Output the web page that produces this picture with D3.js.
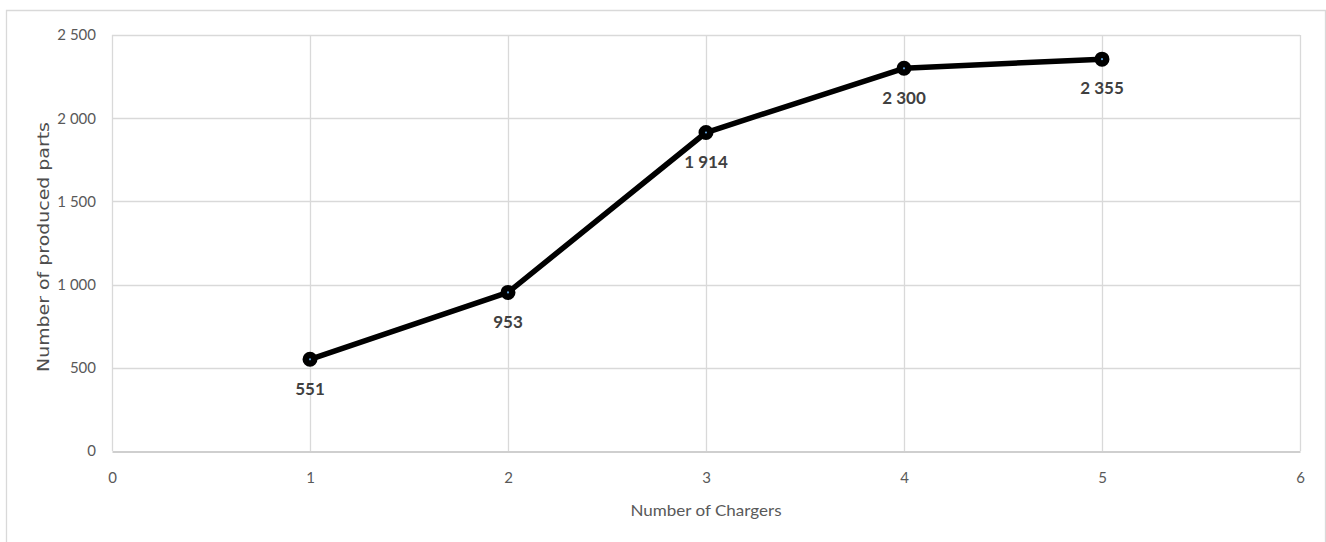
<!DOCTYPE html>
<html>
<head>
<meta charset="utf-8">
<script src="https://cdn.jsdelivr.net/npm/d3@7"></script>
<style>
  html, body { margin: 0; padding: 0; background: #ffffff; }
  svg { display: block; }
</style>
</head>
<body>
<svg id="chart" width="1326" height="542"></svg>
<script>
// Production output by number of chargers
const chargers = [1, 2, 3, 4, 5];
const producedParts = [551, 953, 1914, 2300, 2355];
const xTicks = [0, 1, 2, 3, 4, 5, 6];
const yTicks = [0, 500, 1000, 1500, 2000, 2500];
const xTitle = "Number of Chargers";
const yTitle = "Number of produced parts";

const svg = d3.select("#chart");
const W = 1326, H = 542;
const plot = { left: 112, right: 1300, top: 35, bottom: 451 };

// Outer chart frame
svg.append("path")
  .attr("d", `M6.5,${H + 2} V10.5 H1325.5 V${H + 2}`)
  .attr("fill", "none")
  .attr("stroke", "#d9d9d9")
  .attr("stroke-width", 1.3);

const x = d3.scaleLinear().domain([0, 6]).range([plot.left, plot.right]);
const y = d3.scaleLinear().domain([0, 2500]).range([plot.bottom, plot.top]);

const fmt = v => d3.format(",")(v).replace(/,/g, " ");

// Gridlines
const grid = svg.append("g");
grid.selectAll("line.v").data(xTicks).join("line")
  .attr("x1", d => Math.round(x(d)) + 0.5).attr("x2", d => Math.round(x(d)) + 0.5)
  .attr("y1", plot.top).attr("y2", plot.bottom)
  .attr("stroke", "#d9d9d9").attr("stroke-width", 1.3);
grid.selectAll("line.h").data(yTicks.filter(d => d > 0)).join("line")
  .attr("x1", plot.left).attr("x2", plot.right)
  .attr("y1", d => Math.round(y(d)) + 0.5).attr("y2", d => Math.round(y(d)) + 0.5)
  .attr("stroke", "#d9d9d9").attr("stroke-width", 1.3);

// X axis
const xAxis = svg.append("g")
  .attr("transform", `translate(0,${Math.round(y(0)) + 0.5})`)
  .call(d3.axisBottom(x).tickValues(xTicks).tickSize(0).tickPadding(21).tickFormat(d3.format("d")));
xAxis.select(".domain").attr("stroke", "#bfbfbf").attr("stroke-width", 1.5);
xAxis.selectAll("text")
  .attr("fill", "#595959")
  .style("font-family", "Lato, 'Open Sans', sans-serif")
  .style("font-size", "15px");

// Y axis
const yAxis = svg.append("g")
  .attr("transform", `translate(${plot.left},0)`)
  .call(d3.axisLeft(y).tickValues(yTicks).tickSize(0).tickPadding(16).tickFormat(fmt));
yAxis.select(".domain").remove();
yAxis.selectAll("text")
  .attr("fill", "#595959")
  .style("font-family", "Lato, 'Open Sans', sans-serif")
  .style("font-size", "15px");

// Axis titles
svg.append("text")
  .attr("x", 706).attr("y", 512)
  .attr("text-anchor", "middle").attr("dominant-baseline", "middle")
  .attr("fill", "#595959")
  .style("font-family", "Lato, sans-serif")
  .style("font-size", "16px")
  .attr("textLength", 151).attr("lengthAdjust", "spacingAndGlyphs")
  .text(xTitle);

svg.append("text")
  .attr("transform", `translate(44,${(plot.top + plot.bottom) / 2 + 4}) rotate(-90)`)
  .attr("text-anchor", "middle").attr("dominant-baseline", "middle")
  .attr("fill", "#4d4d4d")
  .style("font-family", "'DejaVu Sans', sans-serif")
  .style("font-size", "15px")
  .attr("textLength", 250).attr("lengthAdjust", "spacingAndGlyphs")
  .text(yTitle);

// Series line
const pts = chargers.map((c, i) => ({ c, v: producedParts[i] }));
svg.append("path")
  .datum(pts)
  .attr("fill", "none")
  .attr("stroke", "#000000")
  .attr("stroke-width", 5.5)
  .attr("stroke-linejoin", "round")
  .attr("d", d3.line().x(d => x(d.c)).y(d => y(d.v)));

// Markers
svg.selectAll("circle.mk").data(pts).join("circle")
  .attr("cx", d => x(d.c)).attr("cy", d => y(d.v))
  .attr("r", 4.3)
  .attr("fill", "#5b9bd5")
  .attr("stroke", "#000000")
  .attr("stroke-width", 6.4);

// Value labels below each point
svg.selectAll("text.lbl").data(pts).join("text")
  .attr("x", d => x(d.c)).attr("y", d => y(d.v) + 31)
  .attr("text-anchor", "middle").attr("dominant-baseline", "middle")
  .attr("fill", "#404040")
  .style("font-family", "Lato, sans-serif")
  .style("font-weight", "bold")
  .style("font-size", "17px")
  .text(d => fmt(d.v));
</script>
</body>
</html>
